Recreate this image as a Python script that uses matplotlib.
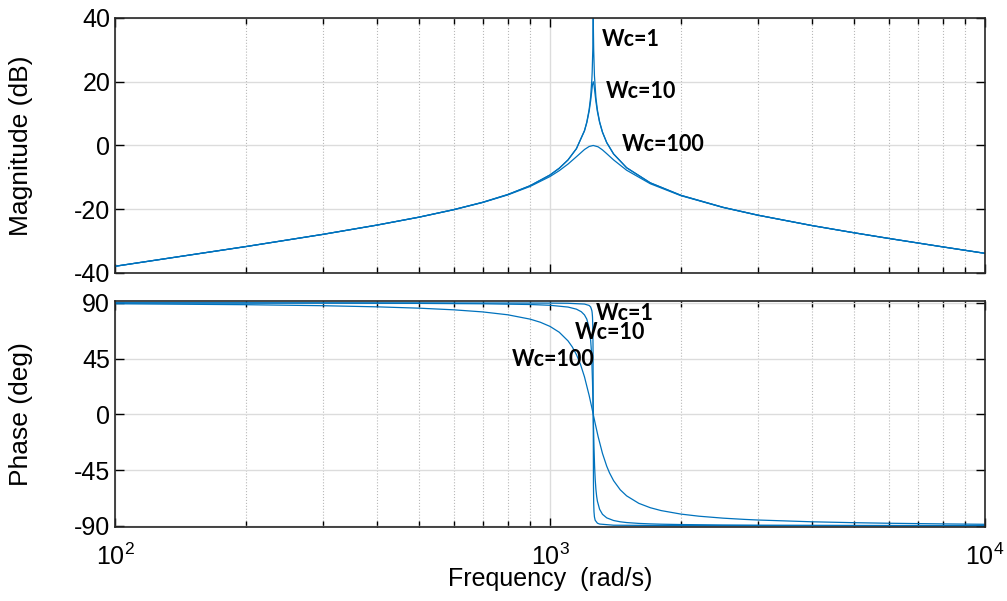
import matplotlib
matplotlib.use("Agg")
import matplotlib.pyplot as plt

plt.rcParams['font.family'] = ['Liberation Sans', 'DejaVu Sans']
plt.rcParams['axes.unicode_minus'] = False
plt.rcParams['mathtext.fontset'] = 'custom'
plt.rcParams['mathtext.rm'] = 'Liberation Sans'

# magnitude (dB)
w_mag_wc1 = [100, 200, 300, 400, 500, 600, 700, 800, 900, 1000, 1050, 1100, 1150, 1200, 1215, 1230, 1240,
             1248, 1250, 1254, 1255.5, 1257, 1258.5, 1260, 1265, 1275, 1285, 1300, 1320, 1350, 1400,
             1500, 1700, 2000, 2500, 3000, 4000, 5000, 6000, 8000, 10000]
mag_wc1 = [-37.90, -31.71, -27.90, -24.98, -22.48, -20.14, -17.83, -15.38, -12.62, -9.25, -7.14, -4.52,
           -0.98, 4.68, 7.39, 11.28, 15.33, 20.85, 23.01, 30.04, 34.96, 40.0, 34.81, 29.96, 21.88, 14.95,
           11.15, 7.47, 4.22, 0.93, -2.65, -6.98, -11.72, -15.64, -19.41, -21.84, -25.12, -27.39, -29.15,
           -31.82, -33.84]

w_mag_wc10 = [100, 200, 300, 400, 500, 600, 700, 800, 900, 1000, 1050, 1100, 1150, 1200, 1215, 1230, 1240,
              1248, 1252, 1257, 1262, 1266, 1275, 1285, 1300, 1320, 1350, 1400, 1500, 1700, 2000, 2500,
              3000, 4000, 5000, 6000, 8000, 10000]
mag_wc10 = [-37.90, -31.71, -27.90, -24.98, -22.48, -20.14, -17.83, -15.38, -12.63, -9.26, -7.15, -4.53,
            -1.02, 4.56, 7.16, 10.74, 14.06, 17.42, 19.03, 20.0, 19.03, 17.43, 13.77, 10.61, 7.24, 4.11,
            0.88, -2.68, -6.99, -11.72, -15.64, -19.41, -21.84, -25.12, -27.39, -29.15, -31.82, -33.84]

w_mag_wc100 = [100, 200, 300, 400, 500, 600, 700, 800, 900, 1000, 1050, 1100, 1150, 1200, 1230, 1257,
               1290, 1320, 1350, 1400, 1500, 1700, 2000, 2500, 3000, 4000, 5000, 6000, 8000, 10000]
mag_wc100 = [-37.90, -31.71, -27.91, -24.99, -22.50, -20.18, -17.90, -15.50, -12.85, -9.74, -7.90, -5.83,
             -3.53, -1.27, -0.32, 0.0, -0.43, -1.39, -2.57, -4.53, -7.77, -12.00, -15.76, -19.46,
             -21.87, -25.13, -27.39, -29.15, -31.82, -33.84]

# phase (deg)
w_ph_wc1 = [100, 500, 1000, 1100, 1200, 1230, 1240, 1248, 1250, 1252, 1254, 1255.5, 1257, 1258.5, 1260,
            1262, 1265, 1270, 1285, 1300, 1400, 2000, 10000]
ph_wc1 = [89.99, 89.96, 89.80, 89.66, 89.02, 87.90, 86.65, 83.67, 81.87, 78.67, 71.48, 55.98, 0.0,
          -56.63, -71.66, -78.71, -82.87, -85.59, -87.93, -88.65, -89.58, -89.91, -89.99]

w_ph_wc10 = [100, 300, 500, 700, 900, 1000, 1100, 1150, 1180, 1200, 1215, 1230, 1240, 1244, 1248, 1252,
             1257, 1262, 1266, 1270, 1275, 1280, 1285, 1300, 1320, 1350, 1400, 1450, 1500, 1600, 1700,
             1800, 2000, 2500, 3000, 5000, 10000]
ph_wc10 = [89.93, 89.77, 89.57, 89.26, 88.66, 88.03, 86.60, 84.90, 82.83, 80.27, 76.82, 69.86, 59.68,
           52.53, 42.03, 26.52, 0.0, -26.61, -41.95, -52.33, -60.80, -66.33, -70.16, -76.70, -80.77,
           -83.65, -85.79, -86.82, -87.44, -88.13, -88.51, -88.76, -89.05, -89.39, -89.54, -89.76, -89.88]

w_ph_wc100 = [100, 200, 300, 400, 500, 600, 700, 800, 900, 950, 1000, 1050, 1100, 1125, 1150, 1175, 1200,
              1230, 1245, 1257, 1270, 1290, 1320, 1350, 1370, 1400, 1450, 1500, 1600, 1700, 1800, 2000,
              2200, 2500, 2800, 3000, 4000, 5000, 6000, 8000, 10000]
ph_wc100 = [89.27, 88.51, 87.69, 86.78, 85.70, 84.38, 82.68, 80.34, 76.84, 74.33, 70.97, 66.26, 59.26,
            54.41, 48.23, 40.31, 30.26, 15.26, 6.86, 0.0, -7.38, -18.05, -31.60, -41.93, -47.30, -53.62,
            -60.97, -65.88, -71.92, -75.45, -77.76, -80.61, -82.31, -83.89, -84.89, -85.38, -86.82,
            -87.55, -88.00, -88.53, -88.84]

line_color = '#0072BD'

fig = plt.figure(figsize=(10.07, 6.01), dpi=100)
ax1 = fig.add_axes([0.1142, 0.5458, 0.8640, 0.4243])
ax2 = fig.add_axes([0.1142, 0.1236, 0.8640, 0.3760])

ax1.plot(w_mag_wc1, mag_wc1, color=line_color, lw=0.9)
ax1.plot(w_mag_wc10, mag_wc10, color=line_color, lw=0.9)
ax1.plot(w_mag_wc100, mag_wc100, color=line_color, lw=0.9)

ax2.plot(w_ph_wc1, ph_wc1, color=line_color, lw=0.9)
ax2.plot(w_ph_wc10, ph_wc10, color=line_color, lw=0.9)
ax2.plot(w_ph_wc100, ph_wc100, color=line_color, lw=0.9)

for ax in (ax1, ax2):
    ax.set_xscale('log')
    ax.set_xlim(100, 10000)
    ax.grid(True, which='major', color='#dcdcdc', lw=1.0, ls='-')
    ax.grid(True, which='minor', axis='x', color='#b8b8b8', lw=0.8, ls=':')
    ax.set_axisbelow(True)
    ax.tick_params(which='both', direction='in', top=True, right=True, labelsize=18, width=1.0)
    ax.tick_params(which='major', length=6.5)
    ax.tick_params(which='minor', length=4)
    ax.tick_params(axis='x', which='major', pad=12)
    for sp in ax.spines.values():
        sp.set_linewidth(1.2)
        sp.set_color('#262626')

ax1.set_ylim(-40, 40)
ax1.set_yticks([-40, -20, 0, 20, 40])
ax1.tick_params(labelbottom=False)
ax1.set_ylabel('Magnitude (dB)', fontsize=19)
ax1.yaxis.set_label_coords(-0.094, 0.5)

ax2.set_ylim(-90.8, 91.7)
ax2.set_yticks([-90, -45, 0, 45, 90])
ax2.set_ylabel('Phase (deg)', fontsize=19)
ax2.yaxis.set_label_coords(-0.094, 0.5)
ax2.set_xlabel('Frequency  (rad/s)', fontsize=18)
ax2.xaxis.set_label_coords(0.5, -0.18)

lab_font = dict(family=['Lato', 'DejaVu Sans'], fontweight='bold', fontsize=15.5, ha='left', va='center')
ax1.text(1315, 33.1, 'Wc=1', **lab_font)
ax1.text(1343, 16.9, 'Wc=10', **lab_font)
ax1.text(1461, 0.2, 'Wc=100', **lab_font)
ax2.text(1274, 81.1, 'Wc=1', **lab_font)
ax2.text(1141, 65.7, 'Wc=10', **lab_font)
ax2.text(816, 44.6, 'Wc=100', **lab_font)

fig.savefig('out.png', dpi=100)
